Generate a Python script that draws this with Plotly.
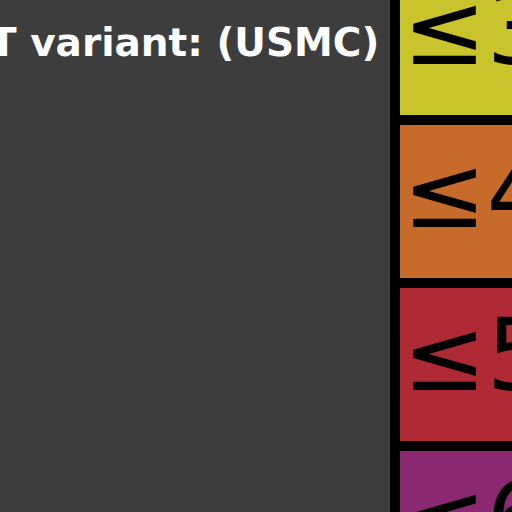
import plotly.graph_objects as go

# Data
labels = ["≤3", "≤4", "≤5", "≤6"]
row_index = [0, 1, 2, 3]
cell_size = [1, 1, 1, 1]
colors = ["#c9c42c", "#c66b2a", "#b02a35", "#8a2872"]
title_text = "T variant: (USMC)"

fig = go.Figure()
fig.add_trace(go.Bar(
    x=[0.5] * len(labels),
    y=cell_size,
    base=row_index,
    width=1,
    marker=dict(color=colors, line=dict(color="black", width=10)),
    hoverinfo="skip",
    showlegend=False,
))
fig.add_trace(go.Scatter(
    x=[0.5] * len(labels),
    y=[r + 0.5 for r in row_index],
    mode="text",
    text=labels,
    textposition="middle center",
    textfont=dict(family="DejaVu Sans", size=100, color="black"),
    hoverinfo="skip",
    showlegend=False,
))

fig.add_annotation(
    text="<b>" + title_text + "</b>",
    xref="paper", yref="paper",
    x=381 / 512, y=1 - 42 / 512,
    xanchor="right", yanchor="middle",
    showarrow=False,
    font=dict(family="DejaVu Sans", size=39, color="white"),
)

fig.update_layout(
    width=512, height=512,
    margin=dict(l=0, r=0, t=0, b=0),
    paper_bgcolor="#3d3d3d",
    plot_bgcolor="#3d3d3d",
    xaxis=dict(range=[-395 / 163, 117 / 163], visible=False, fixedrange=True),
    yaxis=dict(range=[(512 + 43) / 163, 43 / 163], visible=False, fixedrange=True),
    bargap=0,
)

fig.write_html("out.html")
